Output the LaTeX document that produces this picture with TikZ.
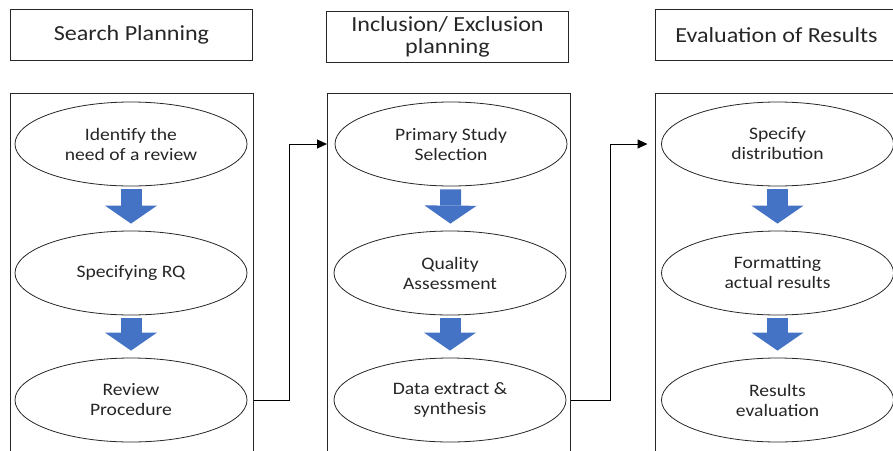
\documentclass[tikz,border=0pt]{standalone}
\usepackage{fontspec}
\setmainfont{Carlito}[FakeStretch=1.12]
\usepackage{xcolor}
\usetikzlibrary{shapes.geometric, arrows.meta, positioning}

\definecolor{arrowblue}{HTML}{4472C4}

\begin{document}
\begin{tikzpicture}[
    x=1pt, y=-1pt,
    >={Triangle[length=10pt, width=9pt]},
    % Phase header boxes
    phasebox/.style={
        rectangle, draw=black!85, line width=1pt, inner sep=0pt,
        minimum width=242pt, minimum height=51pt, align=center,
        font=\fontsize{21.5}{22}\selectfont, text=black!85
    },
    % Lane frames (open at the bottom, cut by the clip)
    lane/.style={
        rectangle, draw=black!85, line width=1pt,
        minimum width=243pt, minimum height=400pt, anchor=north
    },
    % Stage ellipses
    stage/.style={
        ellipse, draw=black!85, line width=0.8pt, inner sep=0pt,
        minimum width=232pt, minimum height=84pt, align=center,
        font=\fontsize{17.5}{20}\selectfont, text=black!85
    },
    % Blue block arrow between stages
    down/.style={
        draw=arrowblue, line width=21pt,
        -{Triangle[length=18pt, width=52pt, line width=0pt]},
        shorten <=3pt, shorten >=7pt
    },
    % Lane-to-lane connector
    flow/.style={->, line width=1pt, black},
]

\useasboundingbox (0,0) rectangle (893,450);
\clip (0,0) rectangle (893,450);

% Column centers
\def\searchx{131.5}
\def\inclx{449}
\def\evalx{776.5}

% Phase headers
\node[phasebox] (h_search) at (\searchx, 35) {Search Planning};
\node[phasebox] (h_incl) at (447.5, 37) {Inclusion/ Exclusion\\planning};
\node[phasebox] (h_eval) at (\evalx, 35) {Evaluation of Results};

% Lane frames
\node[lane] (lane_search) at (\searchx, 93) {};
\node[lane] (lane_incl) at (\inclx, 93) {};
\node[lane] (lane_eval) at (\evalx, 93) {};

% ===== Search Planning =====
\node[stage] (s_need) at (131, 144) {Identify the\\need of a review};
\node[stage] (s_rq) at (131, 273) {Specifying RQ};
\node[stage] (s_proc) at (131, 400) {Review\\Procedure};

\draw[down] (s_need) -- (s_rq);
\draw[down] (s_rq) -- (s_proc);

% ===== Inclusion/ Exclusion =====
\node[stage] (i_select) at (451, 144) {Primary Study\\Selection};
\node[stage] (i_quality) at (450, 273) {Quality\\Assessment};
\node[stage] (i_extract) at (450, 400) {Data extract \&\\synthesis};

\draw[down] (i_select) -- (i_quality);
\draw[down] (i_quality) -- (i_extract);

% ===== Evaluation of Results =====
\node[stage] (e_spec) at (777.5, 144) {Specify\\distribution};
\node[stage] (e_format) at (777.5, 273) {Formatting\\actual results};
\node[stage] (e_results) at (777.5, 400) {Results\\evaluation};

\draw[down] (e_spec) -- (e_format);
\draw[down] (e_format) -- (e_results);

% Lane-to-lane connectors
\draw[flow] (lane_search.east |- s_proc) -- ++(36,0) |- (lane_incl.west |- i_select);
\draw[flow, shorten >=7pt] (lane_incl.east |- i_extract) -- ++(39,0) |- (lane_eval.west |- e_spec);

\end{tikzpicture}
\end{document}
